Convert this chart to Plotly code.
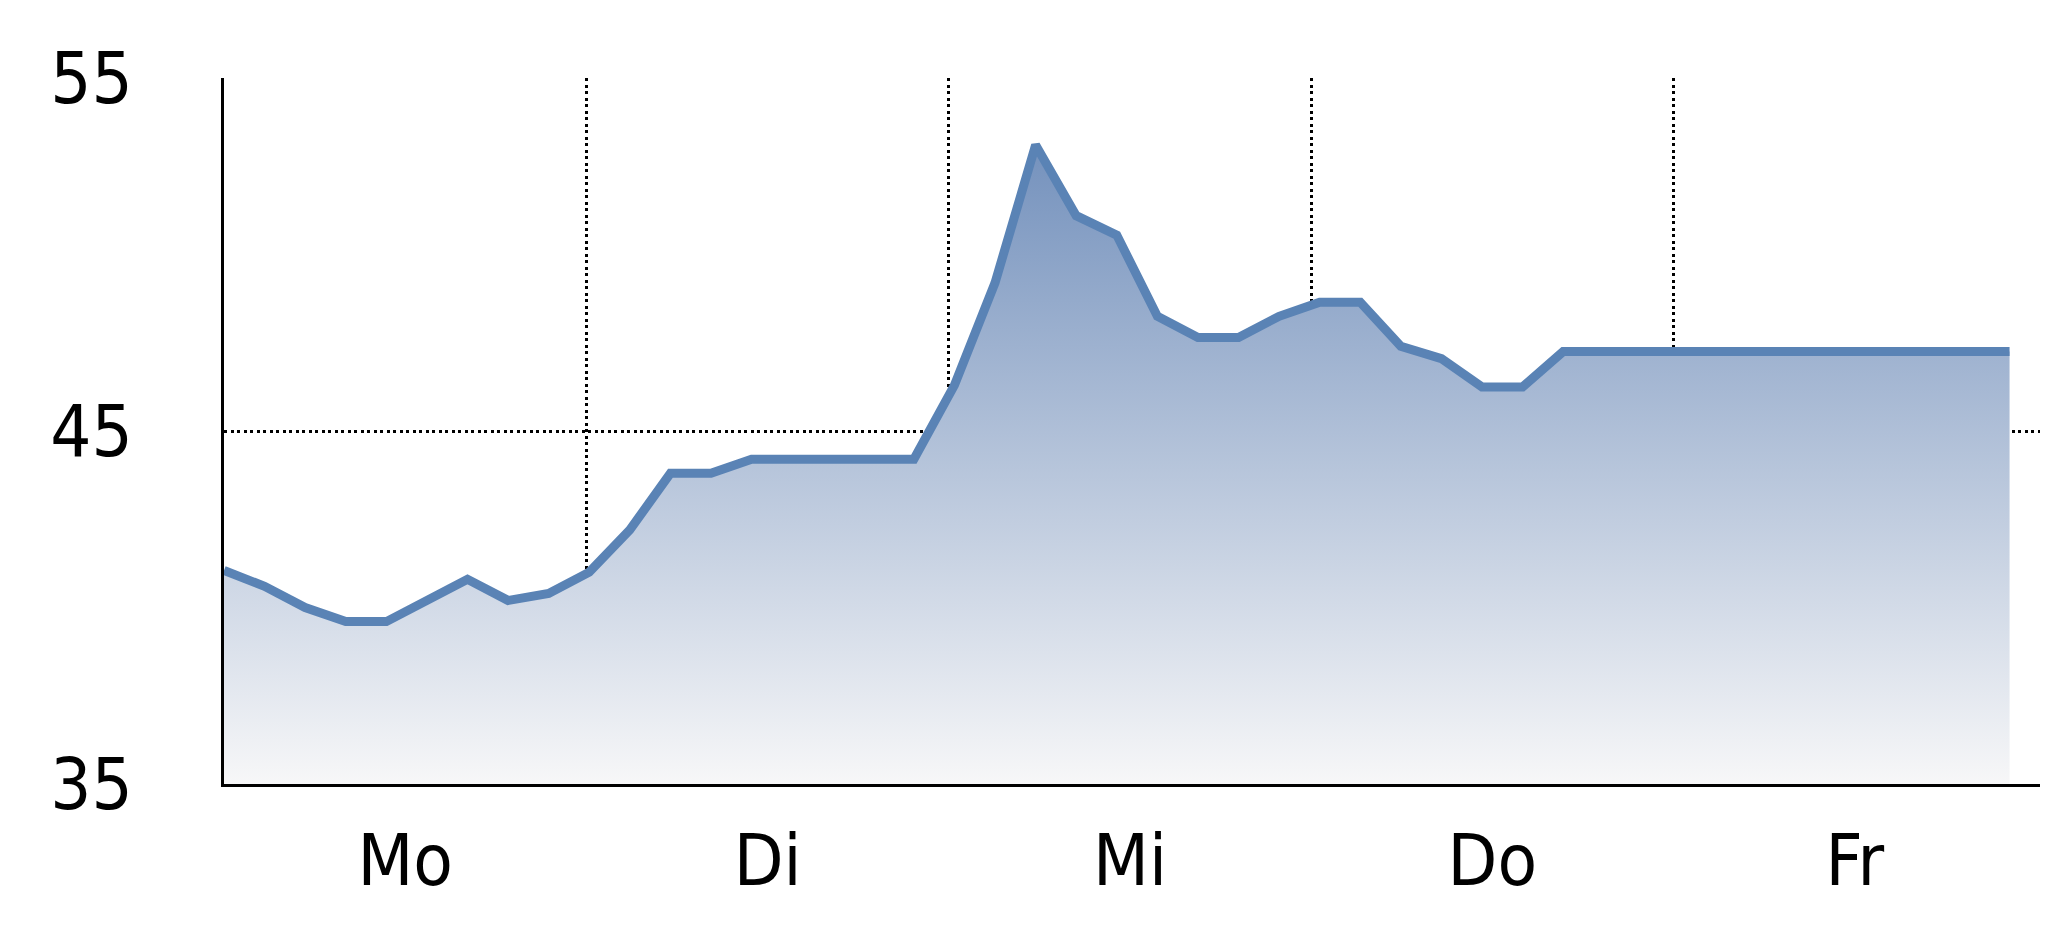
import plotly.graph_objects as go

# Wochentage (Achsenbeschriftung) und Messwerte, 9 Werte pro Tag
days = ["Mo", "Di", "Mi", "Do", "Fr"]
values = [
    41.05, 40.6, 40.0, 39.6, 39.6, 40.2, 40.8, 40.2, 40.4,
    41.0, 42.2, 43.8, 43.8, 44.2, 44.2, 44.2, 44.2, 44.2,
    46.3, 49.2, 53.1, 51.1, 50.55, 48.25, 47.65, 47.65, 48.25,
    48.65, 48.65, 47.4, 47.05, 46.25, 46.25, 47.25, 47.25, 47.25,
    47.25, 47.25, 47.25, 47.25, 47.25, 47.25, 47.25, 47.25, 47.25,
]
y_ticks = [35, 45, 55]

FONT = "DejaVu Sans Condensed, Liberation Sans Narrow, Arial Narrow, Liberation Sans, sans-serif"
DAY_WIDTH = 8.93  # Punkte pro Tag auf der x-Achse
x = list(range(len(values)))
day_edges = [DAY_WIDTH * (i + 1) for i in range(len(days) - 1)]
day_centers = [DAY_WIDTH * (i + 0.5) for i in range(len(days))]

fig = go.Figure()
fig.add_trace(
    go.Scatter(
        x=x,
        y=values,
        mode="lines",
        line=dict(color="#5a83b5", width=9),
        fill="tozeroy",
        fillgradient=dict(
            type="vertical",
            start=35,
            stop=53,
            colorscale=[[0, "#f7f7f8"], [1, "#7592bd"]],
        ),
        showlegend=False,
        hoverinfo="skip",
    )
)

# die Seite hat 8px Rand, daher etwas kleiner und Ränder angepasst
fig.update_layout(
    width=2032,
    height=921,
    margin=dict(l=216, r=0, t=70, b=145),
    paper_bgcolor="white",
    plot_bgcolor="white",
    font=dict(family=FONT, size=72, color="black"),
)

# x-Achse: Tage in der Mitte, gepunktete Trenner dazwischen
fig.update_xaxes(
    range=[0, 44.75],
    tickmode="array",
    tickvals=day_centers,
    ticktext=days,
    ticks="",
    ticklabelstandoff=12,
    showgrid=False,
    zeroline=False,
    showline=True,
    linecolor="black",
    linewidth=3,
    minor=dict(
        tickmode="array",
        tickvals=day_edges,
        showgrid=True,
        gridcolor="black",
        gridwidth=3,
        griddash="3px,3.5px",
        ticks="",
    ),
)

# y-Achse: nur 45 mit gepunkteter Linie
fig.update_yaxes(
    range=[35, 55],
    tickmode="array",
    tickvals=y_ticks,
    ticks="",
    ticklabelstandoff=74,
    showgrid=False,
    zeroline=False,
    showline=True,
    linecolor="black",
    linewidth=3,
    minor=dict(
        tickmode="array",
        tickvals=[45],
        showgrid=True,
        gridcolor="black",
        gridwidth=3,
        griddash="3px,3.5px",
        ticks="",
    ),
)

fig.write_html("out.html")
